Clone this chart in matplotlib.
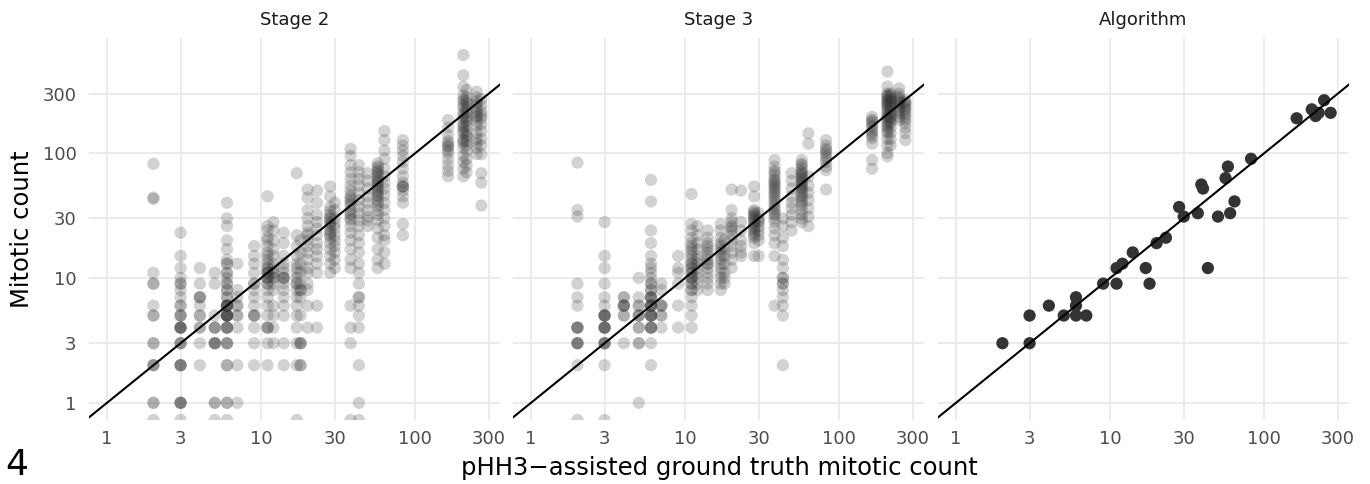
import numpy as np
import matplotlib.pyplot as plt
from matplotlib.ticker import FixedLocator, NullLocator

# axis ticks (log scale)
ticks = [1, 3, 10, 30, 100, 300]
tick_labels = ['1', '3', '10', '30', '100', '300']

# Stage 2: ground truth of each column and the counts the readers gave (0 = no mitoses)
s2_truth = [2, 3, 4, 5, 6, 7, 9, 11, 12, 14, 17, 18, 20, 23, 28, 30, 38, 43,
            49, 57, 63, 83, 163, 205, 215, 250, 268]
s2_counts = [
    [82, 44, 43, 11, 9, 9, 6, 5, 5, 3, 3, 2, 2, 2, 1, 1, 0],
    [23, 15, 12, 10, 9, 9, 8, 7, 6, 6, 5, 5, 5, 4, 4, 4, 4, 4, 3, 3, 3, 2, 2,
     2, 2, 1, 1, 1, 1, 0],
    [12, 9, 7, 7, 7, 6, 5, 5, 4, 4, 3, 2],
    [11, 9, 5, 4, 4, 4, 3, 3, 3, 3, 1, 1, 0],
    [40, 30, 26, 20, 17, 14, 13, 13, 11, 11, 10, 9, 9, 8, 8, 7, 7, 6, 6, 6, 6,
     6, 6, 5, 5, 5, 5, 5, 5, 5, 4, 4, 4, 4, 3, 3, 3, 2, 2, 1, 1, 0],
    [13, 8, 7, 6, 6, 5, 5, 4, 2, 1],
    [18, 15, 13, 11, 9, 9, 8, 7, 6, 5, 5, 5, 4, 3, 2],
    [45, 26, 24, 21, 20, 18, 16, 15, 14, 13, 12, 12, 11, 11, 11, 10, 10, 10, 9,
     9, 8, 7, 6, 5, 4, 4, 4, 3, 2],
    [28, 24, 20, 17, 15, 13, 12, 11, 11, 10, 10, 9, 8, 6, 5, 4, 3],
    [23, 19, 15, 13, 12, 11, 10, 10, 10, 9, 8, 7, 6, 5, 3, 2],
    [69, 22, 18, 15, 13, 12, 11, 10, 9, 9, 8, 7, 6, 5, 4, 3, 2, 0],
    [20, 16, 13, 11, 9, 8, 8, 7, 5, 3, 3, 3, 2, 2],
    [51, 44, 35, 30, 26, 23, 22, 20, 18, 16, 14, 12, 11, 9, 8, 6, 4],
    [50, 40, 32, 28, 25, 22, 19, 17, 15, 13, 11, 6, 4],
    [54, 45, 37, 34, 32, 30, 30, 28, 27, 26, 24, 23, 22, 21, 19, 17, 15, 13,
     11],
    [40, 35, 30, 27, 25, 22, 20, 18, 16, 14, 12],
    [108, 95, 80, 70, 62, 55, 50, 46, 44, 42, 40, 38, 35, 33, 32, 30, 29, 26,
     23, 20, 17, 14, 12, 6, 4, 3, 0],
    [80, 70, 62, 55, 48, 42, 37, 33, 29, 26, 22, 19, 16, 13, 11, 9, 7, 7, 6,
     5, 4, 2, 1, 0],
    [69, 60, 52, 45, 40, 35, 31, 29, 26],
    [83, 78, 76, 72, 70, 67, 65, 62, 60, 58, 56, 54, 52, 50, 48, 46, 45, 42, 40,
     38, 35, 32, 29, 25, 21, 17, 14, 12],
    [150, 127, 105, 90, 75, 65, 58, 52, 46, 40, 35, 30, 26, 22, 20, 16, 13],
    [127, 115, 105, 95, 85, 75, 65, 58, 54, 54, 54, 50, 45, 40, 27, 22],
    [184, 160, 140, 125, 120, 113, 113, 105, 100, 90, 80, 72, 65],
    [610, 420, 340, 290, 270, 260, 240, 230, 210, 200, 190, 175, 165, 160, 150,
     145, 130, 125, 120, 110, 95, 85, 75, 65],
    [320, 280, 260, 250, 230, 220, 210, 195, 185, 180, 165, 150, 140, 135, 125,
     115, 105, 90, 80, 70],
    [310, 280, 260, 250, 240, 225, 210, 200, 195, 180, 165, 145, 130, 120, 110,
     98],
    [270, 240, 215, 200, 190, 170, 150, 130, 115, 98, 69, 58, 38],
]

# Stage 3
s3_truth = [2, 3, 4, 5, 6, 7, 9, 11, 12, 14, 17, 18, 20, 23, 28, 30, 38, 43,
            49, 57, 63, 82, 163, 205, 215, 244, 268]
s3_counts = [
    [84, 35, 31, 9, 7, 6, 4, 4, 4, 4, 3, 3, 3, 3, 2, 0],
    [28, 15, 12, 9, 7, 6, 5, 5, 5, 5, 5, 4, 4, 4, 4, 4, 3, 3, 3, 3, 2, 0],
    [7, 7, 6, 6, 6, 6, 5, 5, 3],
    [10, 7, 6, 6, 5, 5, 5, 4, 4, 3, 3, 1],
    [61, 41, 24, 19, 15, 13, 12, 11, 10, 9, 9, 8, 8, 7, 7, 7, 7, 6, 6, 6, 6, 6,
     5, 5, 5, 5, 5, 4, 4, 4, 4, 3, 2],
    [9, 8, 6, 6, 6, 5, 5, 4],
    [15, 12, 11, 9, 6, 4],
    [47, 27, 24, 21, 19, 18, 17, 16, 15, 14, 13, 13, 12, 12, 11, 11, 10, 10, 10,
     9, 9, 8, 8, 7, 6, 5, 4],
    [26, 22, 19, 17, 15, 14, 13, 12, 11, 10, 9, 8],
    [24, 21, 19, 18, 17, 16, 15, 14, 13, 13, 12, 11, 10, 9, 8],
    [27, 24, 21, 19, 18, 17, 16, 15, 14, 13, 12, 11, 10, 9, 8],
    [20, 17, 15, 13, 11, 10, 9],
    [51, 35, 30, 28, 26, 25, 24, 22, 20, 18, 16, 14, 12],
    [50, 28, 24, 20, 18, 16, 15],
    [54, 45, 35, 34, 33, 32, 31, 30, 29, 28, 27, 26, 25, 24, 23, 22, 21, 19, 15],
    [33, 30, 29, 28, 26, 24, 22, 20, 15],
    [88, 78, 72, 70, 66, 62, 60, 58, 56, 54, 52, 50, 48, 46, 44, 42, 40, 38, 36,
     35, 33, 32, 30, 28, 25, 22, 19, 15, 6],
    [30, 26, 21, 18, 14, 12, 10, 10, 9, 9, 8, 7, 6, 5, 2],
    [69, 60, 52, 45, 40, 36, 32, 28, 24],
    [88, 82, 80, 76, 72, 70, 68, 66, 64, 62, 60, 58, 57, 55, 53, 52, 50, 48, 46,
     44, 42, 40, 38, 35, 32, 30, 28],
    [144, 119, 65, 55, 48, 42, 36, 31, 26],
    [127, 115, 108, 105, 100, 95, 90, 85, 78, 73, 51],
    [195, 185, 180, 175, 165, 160, 150, 145, 138, 132, 119, 88, 75],
    [450, 341, 300, 290, 285, 275, 265, 260, 250, 245, 240, 230, 220, 210, 200,
     195, 190, 180, 175, 165, 160, 150, 145, 130, 115, 100, 94],
    [300, 290, 280, 270, 260, 255, 245, 235, 225, 215, 205, 195, 190, 180, 175,
     160, 145, 130, 115],
    [330, 300, 285, 275, 265, 260, 250, 240, 230, 220, 210, 195, 185],
    [265, 255, 250, 240, 230, 225, 215, 205, 195, 185, 175, 160, 145, 127],
]

# Algorithm: one count per case
alg_truth = [2, 3, 3, 4, 5, 6, 6, 6, 7, 9, 11, 11, 12, 14, 17, 18, 20, 23, 28,
             30, 37, 39, 40, 43, 50, 56, 58, 60, 64, 82, 162, 203, 215, 225,
             244, 269]
alg_count = [3, 3, 5, 6, 5, 5, 6, 7, 5, 9, 9, 12, 13, 16, 12, 9, 19, 21, 37,
             31, 33, 56, 52, 12, 31, 63, 78, 33, 41, 90, 190, 224, 198, 210,
             265, 210]

xlim = (0.764, 354)
ylim = (0.728, 835)


def flatten(truth, counts):
    xs, ys = [], []
    for t, c in zip(truth, counts):
        xs += [t] * len(c)
        ys += c
    return np.array(xs, float), np.array(ys, float)


fig = plt.figure(figsize=(13.7, 4.84), dpi=100)
W, H = 1370, 484
lefts = [89, 513, 938]
titles = ['Stage 2', 'Stage 3', 'Algorithm']
panels = [flatten(s2_truth, s2_counts), flatten(s3_truth, s3_counts),
          (np.array(alg_truth, float), np.array(alg_count, float))]

for i, (left, title, (xs, ys)) in enumerate(zip(lefts, titles, panels)):
    ax = fig.add_axes([left / W, 1 - 420 / H, 411 / W, 382 / H])
    ax.set_xscale('log')
    ax.set_yscale('log')
    ax.set_xlim(xlim)
    ax.set_ylim(ylim)
    for s in ax.spines.values():
        s.set_visible(False)
    ax.xaxis.set_major_locator(FixedLocator(ticks))
    ax.yaxis.set_major_locator(FixedLocator(ticks))
    ax.xaxis.set_minor_locator(NullLocator())
    ax.yaxis.set_minor_locator(NullLocator())
    ax.set_xticklabels(tick_labels)
    if i == 0:
        ax.set_yticklabels(tick_labels)
    else:
        ax.set_yticklabels([])
    ax.tick_params(axis='both', length=0, labelsize=13, labelcolor='#4D4D4D')
    ax.tick_params(axis='x', pad=7)
    ax.tick_params(axis='y', pad=9)
    ax.grid(True, color='#EBEBEB', lw=1.4)
    ax.set_axisbelow(True)

    # zero counts sit on the lower edge of the panel (log of 0)
    ys_plot = np.where(ys <= 0, ylim[0], ys)
    if i < 2:
        ax.scatter(xs, ys_plot, s=78, color='#333333', alpha=0.22,
                   edgecolors='none', zorder=2)
    else:
        ax.scatter(xs, ys_plot, s=78, color='#333333', edgecolors='none',
                   zorder=2)
    ax.plot(xlim, xlim, color='black', lw=1.5, zorder=3)
    fig.text((left + 205.5) / W, 1 - 25 / H, title, fontsize=13,
             ha='center', va='baseline', color='#1A1A1A')

fig.text(719 / W, 1 - 475 / H, 'pHH3\u2212assisted ground truth mitotic count',
         ha='center', va='baseline', fontsize=17.5)
fig.text(22 / W, 1 - 229 / H, 'Mitotic count', rotation=90, ha='center',
         va='center', fontsize=17.5)
fig.text(17 / W, 1 - 465 / H, '4', ha='center', va='center', fontsize=26)

fig.savefig('out.png', dpi=100)
